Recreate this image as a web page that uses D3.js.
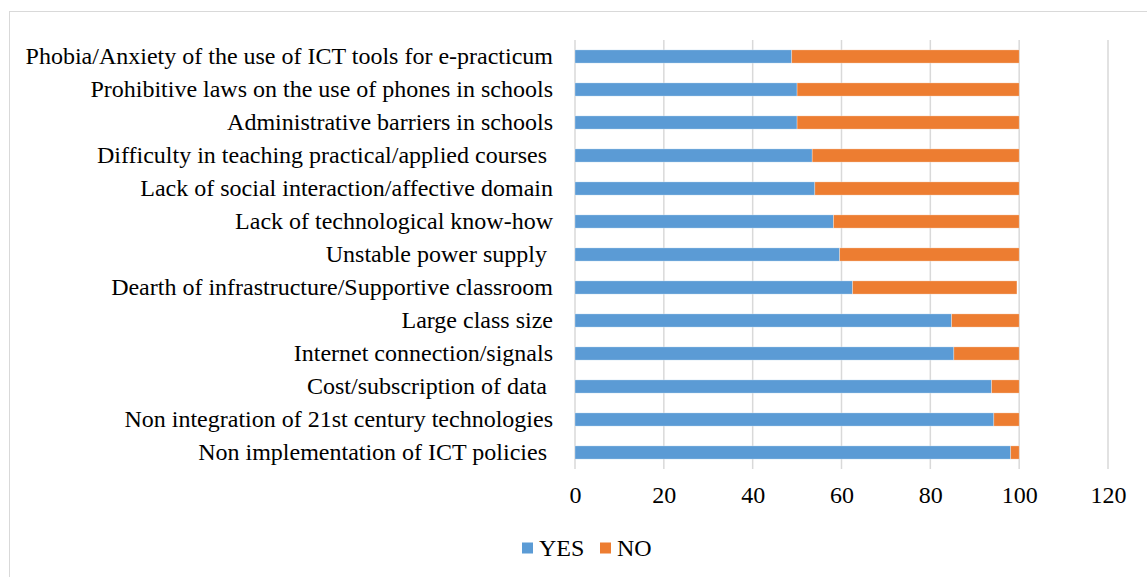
<!DOCTYPE html>
<html>
<head>
<meta charset="utf-8">
<script src="https://cdn.jsdelivr.net/npm/d3@7"></script>
<style>
	body { margin: 0; background: #fff; }
	text { font-family: "Liberation Serif", "Times New Roman", serif; fill: #000; white-space: pre; }
</style>
</head>
<body>
<svg id="chart" width="1147" height="577"></svg>
<script>
// categories, top to bottom
var categories = [
	"Phobia/Anxiety of the use of ICT tools for e-practicum",
	"Prohibitive laws on the use of phones in schools",
	"Administrative barriers in schools",
	"Difficulty in teaching practical/applied courses ",
	"Lack of social interaction/affective domain",
	"Lack of technological know-how",
	"Unstable power supply ",
	"Dearth of infrastructure/Supportive classroom",
	"Large class size",
	"Internet connection/signals",
	"Cost/subscription of data ",
	"Non integration of 21st century technologies",
	"Non implementation of ICT policies "
];
var yes = [48.8, 50, 50, 53.4, 54, 58.2, 59.6, 62.5, 84.8, 85.3, 93.8, 94.3, 98.1];
var no  = [51.2, 50, 50, 46.6, 46, 41.8, 40.4, 37, 15.2, 14.7, 6.2, 5.7, 1.9];
var xTicks = [0, 20, 40, 60, 80, 100, 120];
var seriesNames = ["YES", "NO"];
var seriesColors = ["#5b9bd5", "#ed7d31"];

var margin = {top: 40, left: 575, right: 39, bottom: 108},
	width = 1147 - margin.left - margin.right,
	height = 577 - margin.top - margin.bottom;

var svg = d3.select("#chart");

svg.append("rect")
	.attr("x", 9.5).attr("y", 11.5)
	.attr("width", 1147).attr("height", 600)
	.attr("fill", "none").attr("stroke", "#d9d9d9");

var x = d3.scaleLinear().domain([0, 120]).range([0, width]);
var y = d3.scaleBand().domain(categories).range([0, height]).paddingInner(0.6).paddingOuter(0.3);

var g = svg.append("g").attr("transform", "translate(" + margin.left + "," + margin.top + ")");

// gridlines
g.selectAll(".grid")
	.data(xTicks)
	.enter().append("line")
	.attr("x1", function(d) { return x(d); })
	.attr("x2", function(d) { return x(d); })
	.attr("y1", 0).attr("y2", height)
	.attr("stroke", "#d9d9d9").attr("stroke-width", 1.5);

var data = categories.map(function(c, i) { return {cat: c, YES: yes[i], NO: no[i]}; });
var stacked = d3.stack().keys(seriesNames)(data);

g.selectAll(".series")
	.data(stacked)
	.enter().append("g")
	.attr("fill", function(d, i) { return seriesColors[i]; })
	.selectAll("rect")
	.data(function(d) { return d; })
	.enter().append("rect")
	.attr("x", function(d) { return x(d[0]); })
	.attr("width", function(d) { return x(d[1]) - x(d[0]); })
	.attr("y", function(d) { return y(d.data.cat); })
	.attr("height", y.bandwidth())
	.attr("stroke", "#fff").attr("stroke-width", 0.6).attr("stroke-opacity", 0.5);

// x axis labels
var xAxis = g.append("g")
	.attr("transform", "translate(0," + height + ")")
	.call(d3.axisBottom(x).tickValues(xTicks).tickSize(0).tickPadding(17));
xAxis.select(".domain").remove();
xAxis.selectAll("text")
	.style("font-size", "24px")
	.style("font-family", "'Liberation Serif', serif")
	.attr("fill", "#000");

// y axis labels
var yAxis = g.append("g")
	.call(d3.axisLeft(y).tickSize(0).tickPadding(22));
yAxis.select(".domain").remove();
yAxis.selectAll("text")
	.style("font-size", "24px")
	.style("font-family", "'Liberation Serif', serif")
	.attr("fill", "#000");

// legend
var legend = svg.append("g").attr("transform", "translate(522,548)");
var legX = [0, 78];
seriesNames.forEach(function(s, i) {
	legend.append("rect")
		.attr("x", legX[i]).attr("y", -5.5)
		.attr("width", 11).attr("height", 11)
		.attr("fill", seriesColors[i]);
	legend.append("text")
		.attr("x", legX[i] + 17).attr("y", 8)
		.style("font-size", "24px")
		.text(s);
});
</script>
</body>
</html>
